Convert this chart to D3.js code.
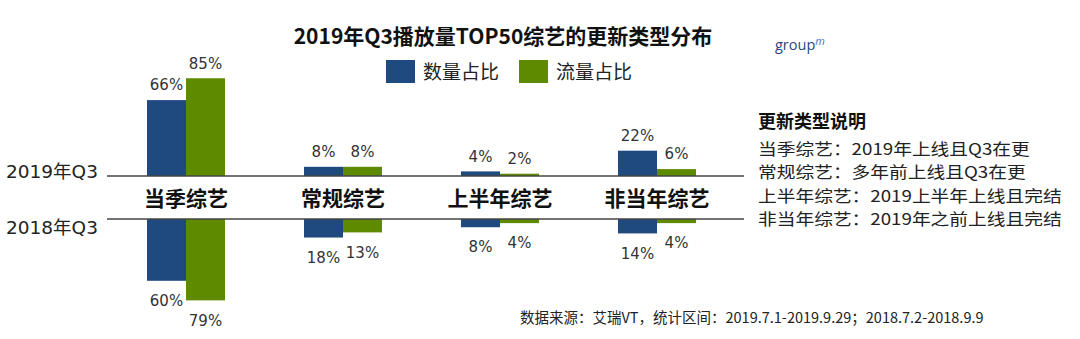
<!DOCTYPE html>
<html>
<head>
<meta charset="utf-8">
<script src="https://cdn.jsdelivr.net/npm/d3@7/dist/d3.min.js"></script>
<style>
  html, body { margin: 0; padding: 0; background: #fff; }
  svg { display: block; }
</style>
</head>
<body>
<svg id="chart" width="1080" height="339"></svg>
<script>
// Update-type categories of the top-50 variety shows
const categories = ["当季综艺", "常规综艺", "上半年综艺", "非当年综艺"];
const seriesNames = ["数量占比", "流量占比"];
const seriesColors = ["#1F4A80", "#5E8A00"];

// Share (%) in 2019 Q3 (drawn upward) and 2018 Q3 (drawn downward)
const count2019 = [66, 8, 4, 22];
const traffic2019 = [85, 8, 2, 6];
const count2018 = [60, 18, 8, 14];
const traffic2018 = [79, 13, 4, 4];

const periodLabels = ["2019年Q3", "2018年Q3"];
const notesTitle = "更新类型说明";
const notes = [
  "当季综艺：2019年上线且Q3在更",
  "常规综艺：多年前上线且Q3在更",
  "上半年综艺：2019上半年上线且完结",
  "非当年综艺：2019年之前上线且完结"
];
const titleText = "2019年Q3播放量TOP50综艺的更新类型分布";
const sourceText = "数据来源：艾瑞VT，统计区间：2019.7.1-2019.9.29；2018.7.2-2018.9.9";

const svg = d3.select("#chart");
const cjk = "'Noto Sans CJK SC', 'Noto Sans', sans-serif";
const num = "'DejaVu Sans', 'Noto Sans CJK SC', sans-serif";

const topBase = 176, botBase = 219;
const x0 = d3.scaleBand().domain(categories).range([107.5, 735.5]).padding(0);
const x1 = d3.scaleBand().domain(seriesNames).range([-39, 39]).padding(0);
const yUp = d3.scaleLinear().domain([0, 100]).range([topBase, topBase - 115]);
const yDown = d3.scaleLinear().domain([0, 100]).range([botBase, botBase + 103]);

const upData = [], downData = [];
categories.forEach((c, i) => {
  upData.push({ cat: c, s: seriesNames[0], v: count2019[i] });
  upData.push({ cat: c, s: seriesNames[1], v: traffic2019[i] });
  downData.push({ cat: c, s: seriesNames[0], v: count2018[i] });
  downData.push({ cat: c, s: seriesNames[1], v: traffic2018[i] });
});
const color = d3.scaleOrdinal().domain(seriesNames).range(seriesColors);
const cx = d => x0(d.cat) + x0.bandwidth() / 2;

// Title
svg.append("text")
  .attr("x", 503).attr("y", 37).attr("dy", "0.35em")
  .attr("text-anchor", "middle")
  .attr("font-family", cjk).attr("font-weight", "bold").attr("font-size", 21)
  .attr("fill", "#111").text(titleText);

// groupm mark
const logo = svg.append("text").attr("x", 775).attr("y", 50)
  .attr("font-family", "'Open Sans', 'DejaVu Sans', sans-serif")
  .attr("font-size", 14.5).attr("fill", "#27487E");
logo.append("tspan").text("group");
logo.append("tspan").attr("dy", -5).attr("font-size", 11).attr("font-style", "italic")
  .attr("fill", "#3D74C4").text("m");

// Legend
const legendX = [386, 519];
seriesNames.forEach((s, i) => {
  svg.append("rect").attr("x", legendX[i]).attr("y", 60).attr("width", 29).attr("height", 23)
    .attr("fill", color(s));
  svg.append("text").attr("x", legendX[i] + 37).attr("y", 72).attr("dy", "0.35em")
    .attr("font-family", cjk).attr("font-size", 19).attr("fill", "#222").text(s);
});

// Bars above (2019 Q3)
svg.append("g").selectAll("rect").data(upData).join("rect")
  .attr("x", d => cx(d) + x1(d.s))
  .attr("width", x1.bandwidth())
  .attr("y", d => yUp(d.v))
  .attr("height", d => topBase - yUp(d.v))
  .attr("fill", d => color(d.s));

// Bars below (2018 Q3)
svg.append("g").selectAll("rect").data(downData).join("rect")
  .attr("x", d => cx(d) + x1(d.s))
  .attr("width", x1.bandwidth())
  .attr("y", botBase)
  .attr("height", d => yDown(d.v) - botBase)
  .attr("fill", d => color(d.s));

// Value labels
svg.append("g").selectAll("text").data(upData).join("text")
  .attr("x", d => cx(d) + x1(d.s) + x1.bandwidth() / 2)
  .attr("y", d => yUp(d.v) - 15).attr("dy", "0.35em")
  .attr("text-anchor", "middle")
  .attr("font-family", num).attr("font-size", 15).attr("fill", "#333")
  .text(d => d.v + "%");
svg.append("g").selectAll("text").data(downData).join("text")
  .attr("x", d => cx(d) + x1(d.s) + x1.bandwidth() / 2)
  .attr("y", d => yDown(d.v) + 20).attr("dy", "0.35em")
  .attr("text-anchor", "middle")
  .attr("font-family", num).attr("font-size", 15).attr("fill", "#333")
  .text(d => d.v + "%");

// Baselines
[topBase, botBase].forEach(y => {
  svg.append("line").attr("x1", 107).attr("x2", 744).attr("y1", y).attr("y2", y)
    .attr("stroke", "#444").attr("stroke-width", 1.5);
});

// Category labels between the baselines
svg.append("g").selectAll("text").data(categories).join("text")
  .attr("x", c => x0(c) + x0.bandwidth() / 2)
  .attr("y", 199).attr("dy", "0.35em")
  .attr("text-anchor", "middle")
  .attr("font-family", cjk).attr("font-weight", "bold").attr("font-size", 21)
  .attr("fill", "#111").text(c => c);

// Period labels
svg.append("text").attr("x", 6).attr("y", 172).attr("dy", "0.35em")
  .attr("font-family", num).attr("font-size", 18.5).attr("fill", "#222").text(periodLabels[0]);
svg.append("text").attr("x", 6).attr("y", 228).attr("dy", "0.35em")
  .attr("font-family", num).attr("font-size", 18.5).attr("fill", "#222").text(periodLabels[1]);

// Notes on the right: compact line height, glyphs widened a little
svg.append("text").attr("x", 758).attr("y", 122).attr("dy", "0.35em")
  .attr("font-family", cjk).attr("font-weight", "bold").attr("font-size", 18)
  .attr("fill", "#111").text(notesTitle);
svg.append("g").selectAll("text").data(notes).join("text")
  .attr("x", 758).attr("y", (d, i) => 149 + i * 23.5).attr("dy", "0.35em")
  .attr("font-family", cjk).attr("font-size", 16)
  .attr("fill", "#222").text(d => d)
  .each(function () {
    const w = this.getComputedTextLength();
    d3.select(this).attr("textLength", w * 1.17).attr("lengthAdjust", "spacingAndGlyphs");
  });

// Source line
svg.append("text").attr("x", 520).attr("y", 318).attr("dy", "0.35em")
  .attr("font-family", cjk).attr("font-size", 14.5).attr("fill", "#222").text(sourceText);
</script>
</body>
</html>
